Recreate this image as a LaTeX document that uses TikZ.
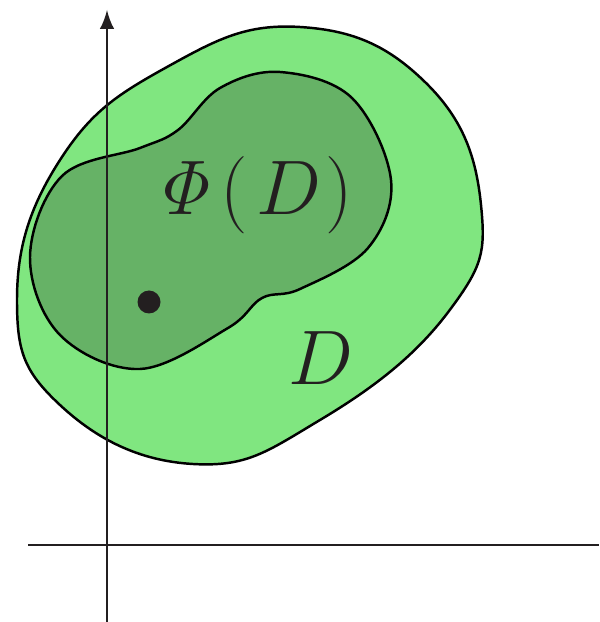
\documentclass[tikz,border=0pt]{standalone}
\usepackage{amsmath}
\usepackage{tikz}
\usetikzlibrary{arrows,positioning,calc}
\usepackage{xcolor}
\definecolor{outergreen}{HTML}{80E680}
\definecolor{innergreen}{HTML}{66B266}
\definecolor{ink}{HTML}{231F20}

\begin{document}
\begin{tikzpicture}[x=0.01cm, y=-0.01cm,
    every node/.style={font=\huge, scale=1.06, text=ink},
    region/.style={draw=black, line width=0.7pt},
    axis/.style={draw=ink, line width=0.75pt}]
        \useasboundingbox (0,0) rectangle (599,622);
        % Domain D
        \filldraw[region, fill=outergreen] plot[smooth cycle, tension=0.75] coordinates {
            (17,300) (60,405) (193,464) (320,420) (449,311) (481,205)
            (426,83) (300,27) (167,67) (60,160)};
        % Image Phi(D)
        \filldraw[region, fill=innergreen] plot[smooth cycle, tension=0.6] coordinates {
            (30,257) (62,176) (140,148) (178,130) (220,88) (280,72)
            (352,98) (391,180) (368,248) (300,289) (262,298) (228,328)
            (140,369) (60,335)};
        % Axes
        \coordinate (yb) at (107,622);
        \coordinate (yt) at (107,10);
        \coordinate (xl) at (28,545);
        \coordinate (xr) at (599,545);
        \draw[axis, line width=0.85pt, -latex] (yb) -- (yt);
        \draw[axis] (xl) -- (xr);
        % Point and labels
        \fill[ink] (149,302) circle (11.5);
        \node (phid) at (253,195) {$\mathit{\Phi}\mkern2mu(\mkern2mu D\mkern1mu)$};
        \node (dlbl) at (321,358) {$D$};
\end{tikzpicture}
\end{document}
